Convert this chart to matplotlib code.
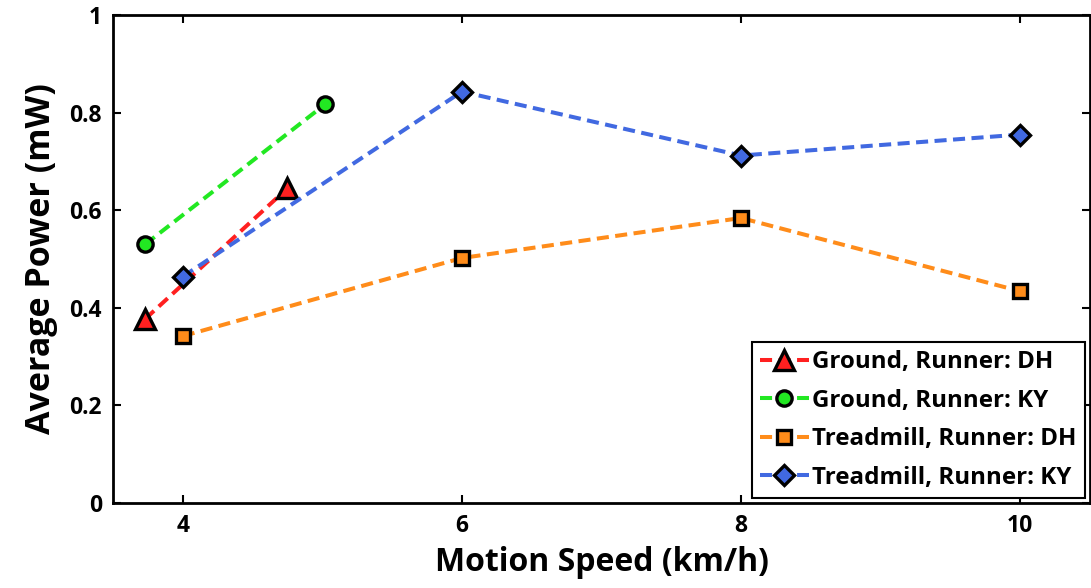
import matplotlib

matplotlib.use("Agg")
import matplotlib.pyplot as plt

# Average harvested power against running speed
ground_dh_speed = [3.73, 4.75]
ground_dh_power = [0.377, 0.645]

ground_ky_speed = [3.73, 5.02]
ground_ky_power = [0.530, 0.817]

tread_speed = [4, 6, 8, 10]
tread_dh_power = [0.342, 0.502, 0.584, 0.434]
tread_ky_power = [0.464, 0.843, 0.712, 0.755]

series = [
    ("Ground, Runner: DH", ground_dh_speed, ground_dh_power, "#ff2020", "^", 14),
    ("Ground, Runner: KY", ground_ky_speed, ground_ky_power, "#22e822", "o", 11),
    ("Treadmill, Runner: DH", tread_speed, tread_dh_power, "#ff8c1a", "s", 10),
    ("Treadmill, Runner: KY", tread_speed, tread_ky_power, "#4169e1", "D", 10),
]

plt.rcParams["font.family"] = ["Open Sans", "DejaVu Sans"]
plt.rcParams["font.weight"] = "bold"

fig = plt.figure(figsize=(10.91, 5.88), dpi=100)
ax = fig.add_axes([0.1036, 0.1446, 0.8954, 0.8299])

for label, xs, ys, color, marker, ms in series:
    ax.plot(
        xs,
        ys,
        linestyle=(0, (3, 1.6)),
        linewidth=2.9,
        color=color,
        marker=marker,
        markersize=ms,
        markerfacecolor=color,
        markeredgecolor="black",
        markeredgewidth=2.4,
        label=label,
    )

ax.set_xlim(3.5, 10.5)
ax.set_ylim(0, 1)
ax.set_xticks([4, 6, 8, 10])
ax.set_yticks([0, 0.2, 0.4, 0.6, 0.8, 1])
ax.set_yticklabels(["0", "0.2", "0.4", "0.6", "0.8", "1"])
ax.tick_params(
    direction="in", top=True, right=True, length=6, width=1.5,
    labelsize=16.5, pad=8,
)
for lab in ax.get_xticklabels() + ax.get_yticklabels():
    lab.set_fontweight("bold")
for spine in ax.spines.values():
    spine.set_linewidth(2.0)

ax.set_xlabel("Motion Speed (km/h)", fontsize=23, fontweight="bold", labelpad=6)
ax.set_ylabel("Average Power (mW)", fontsize=24.5, fontweight="bold", labelpad=8)

leg = ax.legend(
    loc="lower right",
    fontsize=17.4,
    handlelength=2.0,
    handletextpad=0.15,
    labelspacing=0.6,
    borderpad=0.35,
    borderaxespad=0.2,
    fancybox=False,
    framealpha=1,
    edgecolor="black",
)
leg.get_frame().set_linewidth(1.5)
for t in leg.get_texts():
    t.set_fontweight("bold")

fig.savefig("out.png", dpi=100)
